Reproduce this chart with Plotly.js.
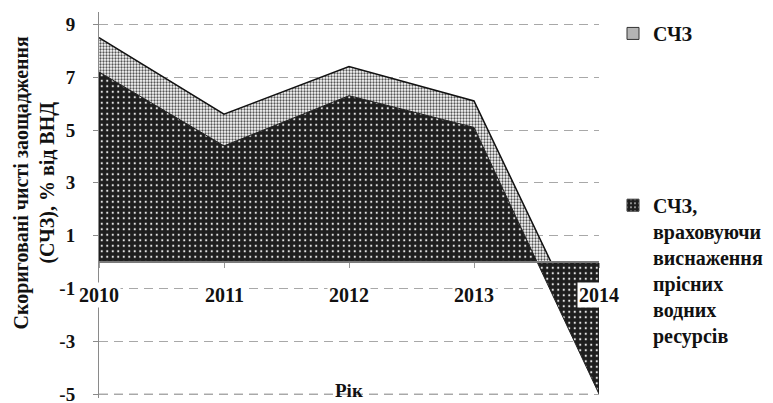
<!DOCTYPE html>
<html>
<head>
<meta charset="utf-8">
<script src="https://cdn.plot.ly/plotly-3.0.1.min.js"></script>
<style>html,body{margin:0;padding:0;background:#fff;}#chart{width:773px;height:403px;}</style>
</head>
<body>
<div id="chart"></div>
<script>
// ---- data ----
var years = ['2010', '2011', '2012', '2013', '2014'];
var schz = [8.5, 5.6, 7.4, 6.1, -3.8];
var schzWater = [7.2, 4.4, 6.3, 5.1, -5.0];
var yTicks = [-5, -3, -1, 1, 3, 5, 7, 9];
var nameSchz = 'СЧЗ';
var nameWater = 'СЧЗ,<br>враховуючи<br>виснаження<br>прісних<br>водних<br>ресурсів';
var yTitle = 'Скориговані чисті заощадження<br>(СЧЗ), % від ВНД';
var xTitle = 'Рік';

var FONT = 'Liberation Serif';
var yRange = [-5.15, 9.47];
var GRID = '#a8a8a8';

var lightPattern = {shape: '.', bgcolor: '#ffffff', fgcolor: '#555555', size: 3, solidity: 0.45};
var darkPattern = {shape: '.', bgcolor: '#1e1e1e', fgcolor: '#e8e8e8', size: 5.5, solidity: 0.12};

var traces = [
  {
    type: 'scatter', mode: 'lines', x: years, y: schz, fill: 'tozeroy',
    fillpattern: lightPattern, fillcolor: '#ffffff',
    line: {color: '#111', width: 1.5}, showlegend: false, hoverinfo: 'skip'
  },
  {
    type: 'scatter', mode: 'lines', x: years, y: schzWater, fill: 'tozeroy',
    fillpattern: darkPattern, fillcolor: '#1e1e1e',
    line: {color: '#222', width: 1}, showlegend: false, hoverinfo: 'skip'
  },
  {
    type: 'bar', x: [null], y: [null], name: nameSchz, legend: 'legend',
    marker: {color: '#ffffff', pattern: {shape: '.', bgcolor: '#ffffff', fgcolor: '#555', size: 2.5, solidity: 0.5}, line: {color: '#333', width: 1}}
  },
  {
    type: 'bar', x: [null], y: [null], name: nameWater, legend: 'legend2',
    marker: {color: '#1e1e1e', pattern: {shape: '.', bgcolor: '#1e1e1e', fgcolor: '#e8e8e8', size: 5, solidity: 0.15}, line: {color: '#333', width: 1}}
  }
];

var annotations = years.map(function (yr, i) {
  return {
    x: i, y: 0, xref: 'x', yref: 'y', yshift: -33, text: yr, showarrow: false,
    xanchor: 'center', yanchor: 'middle',
    bgcolor: '#ffffff', borderpad: 1,
    font: {family: FONT, size: 20, color: '#111', weight: 'bold'}
  };
});
annotations.push({
  x: -0.129, y: 0.557, xref: 'paper', yref: 'paper', xanchor: 'center', yanchor: 'middle',
  text: yTitle, showarrow: false,
  textangle: -90, font: {family: FONT, size: 20, color: '#111', weight: 'bold'}
});
annotations.push({
  x: 0.5, y: 0, xref: 'paper', yref: 'paper', xanchor: 'center', yanchor: 'middle', yshift: 8,
  text: xTitle, showarrow: false,
  font: {family: FONT, size: 19, color: '#111', weight: 'bold'}
});

var legendBase = {
  xanchor: 'left', yanchor: 'top', bgcolor: 'rgba(0,0,0,0)', borderwidth: 0,
  valign: 'top', itemclick: false, itemdoubleclick: false,
  font: {family: FONT, size: 20, color: '#111', weight: 'bold'}
};

var layout = {
  width: 773, height: 403,
  margin: {l: 99, r: 169, t: 12, b: 5},
  paper_bgcolor: '#ffffff', plot_bgcolor: '#ffffff',
  showlegend: true,
  legend: Object.assign({}, legendBase, {x: 1.028, y: 0.995}),
  legend2: Object.assign({}, legendBase, {x: 1.028, y: 0.55}),
  xaxis: {
    type: 'category', range: [0, years.length - 1], anchor: 'free',
    position: (0 - yRange[0]) / (yRange[1] - yRange[0]),
    showline: true, linecolor: '#7a7a7a', linewidth: 2,
    ticks: 'outside', ticklen: 5, tickcolor: '#999', tickwidth: 1,
    showticklabels: false, showgrid: false, zeroline: false, layer: 'above traces',
    fixedrange: true
  },
  yaxis: {
    range: yRange, tickvals: yTicks, ticktext: yTicks.map(String),
    showline: true, linecolor: '#8a8a8a', linewidth: 1,
    ticks: 'outside', ticklen: 5, tickcolor: '#8a8a8a',
    ticklabelstandoff: 14, ticklabeloverflow: 'allow',
    tickfont: {family: FONT, size: 19, color: '#111', weight: 'bold'},
    showgrid: true, gridcolor: GRID, gridwidth: 1, griddash: '9px,6px',
    zeroline: false, fixedrange: true
  },
  shapes: [{
    type: 'line', layer: 'below', xref: 'paper', x0: 0, x1: 0.988,
    yref: 'y', y0: yTicks[0], y1: yTicks[0],
    line: {color: GRID, width: 1, dash: '9px,6px'}
  }],
  annotations: annotations
};

Plotly.newPlot('chart', traces, layout, {displayModeBar: false, staticPlot: true});
</script>
</body>
</html>
